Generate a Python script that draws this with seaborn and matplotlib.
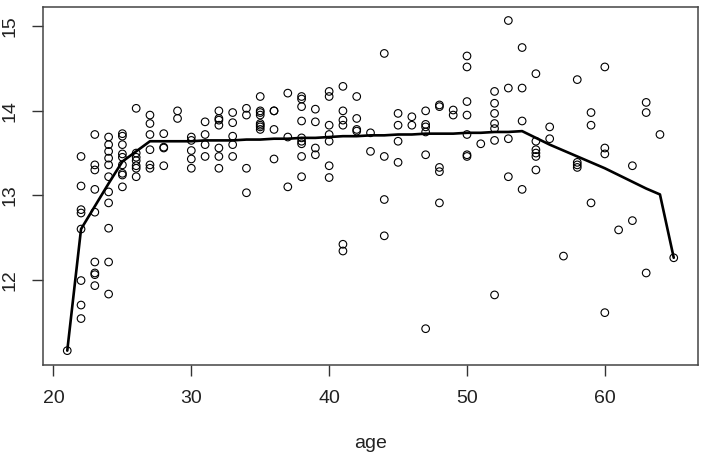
import matplotlib
matplotlib.use("Agg")
import matplotlib.pyplot as plt
import seaborn as sns
import pandas as pd

# scatter data: values per age
point_groups = {
    21: [11.16],
    22: [13.46, 13.11, 12.83, 12.79, 12.60, 11.99, 11.70, 11.54],
    23: [13.72, 13.36, 13.30, 13.07, 12.80, 12.21, 12.08, 12.06, 11.93],
    24: [13.69, 13.60, 13.52, 13.44, 13.36, 13.22, 13.04, 12.91, 12.61, 12.21, 11.83],
    25: [13.73, 13.70, 13.60, 13.49, 13.45, 13.36, 13.26, 13.24, 13.10],
    26: [14.03, 13.50, 13.45, 13.41, 13.35, 13.32, 13.22],
    27: [13.95, 13.85, 13.72, 13.54, 13.36, 13.32],
    28: [13.73, 13.57, 13.56, 13.35],
    29: [14.00, 13.91],
    30: [13.69, 13.65, 13.53, 13.43, 13.32],
    31: [13.87, 13.72, 13.60, 13.46],
    32: [14.00, 13.91, 13.89, 13.83, 13.56, 13.46, 13.32],
    33: [13.98, 13.86, 13.70, 13.60, 13.46],
    34: [14.03, 13.95, 13.32, 13.03],
    35: [14.17, 14.00, 13.98, 13.95, 13.85, 13.83, 13.81, 13.78],
    36: [14.00, 14.00, 13.78, 13.43],
    37: [14.21, 13.69, 13.10],
    38: [14.17, 14.14, 14.05, 13.88, 13.68, 13.64, 13.61, 13.46, 13.22],
    39: [14.02, 13.87, 13.56, 13.48],
    40: [14.23, 14.17, 13.83, 13.72, 13.64, 13.35, 13.21],
    41: [14.29, 14.00, 13.89, 13.83, 12.42, 12.34],
    42: [14.17, 13.91, 13.78, 13.76],
    43: [13.74, 13.52],
    44: [14.68, 13.46, 12.95, 12.52],
    45: [13.97, 13.83, 13.64, 13.39],
    46: [13.93, 13.83],
    47: [14.00, 13.84, 13.81, 13.75, 13.48, 11.42],
    48: [14.07, 14.05, 13.33, 13.28, 12.91],
    49: [14.01, 13.95],
    50: [14.65, 14.52, 14.11, 13.95, 13.72, 13.48, 13.46],
    51: [13.61],
    52: [14.23, 14.09, 13.97, 13.85, 13.79, 13.65, 11.82],
    53: [15.07, 14.27, 13.67, 13.22],
    54: [14.75, 14.27, 13.88, 13.07],
    55: [14.44, 13.64, 13.54, 13.50, 13.46, 13.30],
    56: [13.81, 13.67],
    57: [12.28],
    58: [14.37, 13.39, 13.36, 13.33],
    59: [13.98, 13.83, 12.91],
    60: [14.52, 13.56, 13.49, 11.61],
    61: [12.59],
    62: [13.35, 12.70],
    63: [14.10, 13.98, 12.08],
    64: [13.72],
    65: [12.26],
}

# fitted line
line_age = [21, 22, 23, 24, 25, 26, 27, 28, 29, 30, 31, 32, 33, 34, 35, 36, 37, 38,
            39, 40, 41, 42, 43, 44, 45, 46, 47, 48, 49, 50, 51, 52, 53, 54, 55, 56,
            57, 58, 59, 60, 61, 62, 63, 64, 65]
line_val = [11.16, 12.60, 12.87, 13.14, 13.40, 13.52, 13.64, 13.64, 13.64, 13.64,
            13.65, 13.65, 13.65, 13.66, 13.66, 13.67, 13.67, 13.68, 13.68, 13.69,
            13.70, 13.70, 13.71, 13.71, 13.72, 13.72, 13.73, 13.73, 13.73, 13.74,
            13.74, 13.75, 13.75, 13.76, 13.68, 13.60, 13.53, 13.46, 13.39, 13.32,
            13.24, 13.16, 13.08, 13.01, 12.26]

x_ticks = [20, 30, 40, 50, 60]
y_ticks = [12, 13, 14, 15]

ages, vals = [], []
for a, vs in point_groups.items():
    for v in vs:
        ages.append(a)
        vals.append(v)
pts = pd.DataFrame({"age": ages, "y": vals})
ln = pd.DataFrame({"age": line_age, "y": line_val})

sns.set_style("white")
plt.rcParams["font.family"] = ["Liberation Sans", "DejaVu Sans"]

fig = plt.figure(figsize=(7.02, 4.54), dpi=100)
ax = fig.add_axes([43 / 702, 1 - 365 / 454, (698 - 43) / 702, (365 - 7) / 454])

sns.scatterplot(data=pts, x="age", y="y", ax=ax, marker="o", s=30,
                facecolors="none", edgecolor="black", linewidth=0.8, legend=False)
sns.lineplot(data=ln, x="age", y="y", ax=ax, color="black", linewidth=1.9,
             estimator=None, sort=False)

ax.set_xlim(19.24, 66.76)
ax.set_ylim(10.99, 15.23)
ax.set_xticks(x_ticks)
ax.set_yticks(y_ticks)
ax.set_xticklabels([str(t) for t in x_ticks])
ax.set_yticklabels([str(t) for t in y_ticks], rotation=90, va="center")
ax.tick_params(axis="both", which="major", direction="out", length=8, width=1,
               color="#333333", labelsize=14, labelcolor="#222222", pad=10)
ax.tick_params(axis="both", bottom=True, left=True)
for s in ax.spines.values():
    s.set_visible(True)
    s.set_color("#444444")
    s.set_linewidth(1.1)
ax.set_xlabel("age", fontsize=14, color="#222222", labelpad=20)
ax.set_ylabel("")
ax.grid(False)

fig.savefig("out.png", dpi=100)
